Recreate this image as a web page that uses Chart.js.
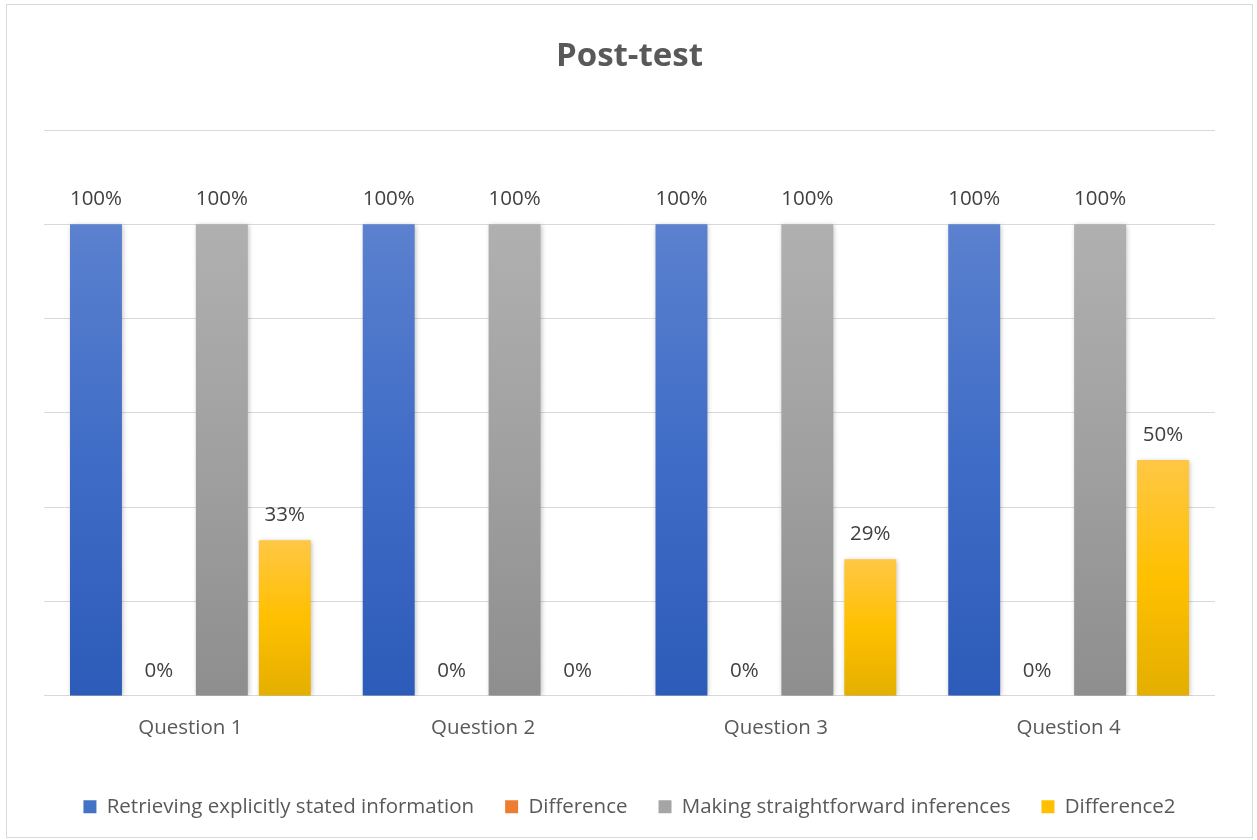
<!DOCTYPE html>
<html>
<head>
<meta charset="utf-8">
<script src="https://cdn.jsdelivr.net/npm/chart.js@4.4.1/dist/chart.umd.min.js"></script>
<style>
    html, body { margin: 0; padding: 0; background: #fff; }
    #wrap { position: relative; width: 1257px; height: 840px; }
</style>
</head>
<body>
<div id="wrap"><canvas id="post-test-chart" width="1257" height="840"></canvas></div>
<script>
    var categories = ["Question 1", "Question 2", "Question 3", "Question 4"];
    var retrieving = [100, 100, 100, 100];
    var difference = [0, 0, 0, 0];
    var inferences = [100, 100, 100, 100];
    var difference2 = [33, 0, 29, 50];
    var yTicks = [0, 20, 40, 60, 80, 100, 120];

    var textColor = "#595959";
    var fontFamily = "'Open Sans', sans-serif";
    var textSize = 20.5;

    // vertical gradient from the top of each bar down to the baseline
    function barGradient(context, stops) {
        var chart = context.chart;
        if (!chart.chartArea || context.type !== "data" || !chart.scales.y) return stops[1];
        var y = chart.scales.y;
        var top = y.getPixelForValue(context.parsed.y);
        var base = y.getPixelForValue(0);
        if (base - top < 1) return stops[1];
        var g = chart.ctx.createLinearGradient(0, top, 0, base);
        stops.forEach(function (c, i) { g.addColorStop(i / (stops.length - 1), c); });
        return g;
    }

    var blueStops = ["#5B81CF", "#3F6CC6", "#2D5BB9"];
    var orangeStops = ["#F4A064", "#ED7D31", "#D5651D"];
    var grayStops = ["#B0B0B0", "#A0A0A0", "#8E8E8E"];
    var yellowStops = ["#FFC745", "#FFC000", "#E4AF00"];

    // outer frame, bar shadows and value labels
    var decorations = {
        id: "decorations",
        beforeDraw: function (chart) {
            var ctx = chart.ctx;
            ctx.save();
            ctx.strokeStyle = "#d9d9d9";
            ctx.lineWidth = 1;
            ctx.strokeRect(6.5, 4.5, 1246, 833);
            ctx.restore();
        },
        beforeDatasetsDraw: function (chart) {
            var ctx = chart.ctx;
            ctx.save();
            ctx.shadowColor = "rgba(0,0,0,0.28)";
            ctx.shadowBlur = 5;
            ctx.shadowOffsetX = 1;
            ctx.shadowOffsetY = 1;
        },
        afterDatasetsDraw: function (chart) {
            var ctx = chart.ctx;
            ctx.restore();
            ctx.save();
            ctx.font = textSize + "px " + fontFamily;
            ctx.fillStyle = "#404040";
            ctx.textAlign = "center";
            ctx.textBaseline = "middle";
            chart.data.datasets.forEach(function (ds, i) {
                var meta = chart.getDatasetMeta(i);
                meta.data.forEach(function (bar, j) {
                    ctx.fillText(ds.data[j] + "%", bar.x, bar.y - 25);
                });
            });
            ctx.restore();
        }
    };

    var ctx = document.getElementById("post-test-chart").getContext("2d");
    var chart = new Chart(ctx, {
        type: "bar",
        data: {
            labels: categories,
            datasets: [
                { label: "Retrieving explicitly stated information", data: retrieving,
                  backgroundColor: function (c) { return barGradient(c, blueStops); }, legendColor: "#4472C4" },
                { label: "Difference", data: difference,
                  backgroundColor: function (c) { return barGradient(c, orangeStops); }, legendColor: "#ED7D31" },
                { label: "Making straightforward inferences", data: inferences,
                  backgroundColor: function (c) { return barGradient(c, grayStops); }, legendColor: "#A5A5A5" },
                { label: "Difference2", data: difference2,
                  backgroundColor: function (c) { return barGradient(c, yellowStops); }, legendColor: "#FFC000" }
            ]
        },
        options: {
            responsive: false,
            animation: false,
            categoryPercentage: 0.86,
            barPercentage: 0.825,
            layout: { padding: { top: 37, left: 44, right: 42, bottom: 13 } },
            plugins: {
                title: {
                    display: true,
                    text: "Post-test",
                    color: textColor,
                    font: { family: fontFamily, size: 33, weight: "bold" },
                    padding: { top: 0, bottom: 53.4 }
                },
                legend: {
                    position: "bottom",
                    labels: {
                        color: textColor,
                        font: { family: fontFamily, size: textSize },
                        boxWidth: 13,
                        boxHeight: 13,
                        padding: 31,
                        generateLabels: function (chart) {
                            return chart.data.datasets.map(function (ds, i) {
                                return {
                                    text: ds.label,
                                    fillStyle: ds.legendColor,
                                    strokeStyle: ds.legendColor,
                                    lineWidth: 0,
                                    fontColor: textColor,
                                    datasetIndex: i
                                };
                            });
                        }
                    }
                },
                tooltip: { enabled: false }
            },
            scales: {
                x: {
                    grid: { display: false },
                    border: { display: false },
                    ticks: { color: textColor, font: { family: fontFamily, size: textSize }, padding: 12 },
                    afterFit: function (axis) { axis.height += 13; }
                },
                y: {
                    min: 0,
                    max: 120,
                    afterBuildTicks: function (axis) {
                        axis.ticks = yTicks.map(function (v) { return { value: v }; });
                    },
                    grid: { color: "#d9d9d9", lineWidth: 1, drawTicks: false },
                    border: { display: false },
                    ticks: { display: false }
                }
            }
        },
        plugins: [decorations]
    });
</script>
</body>
</html>
